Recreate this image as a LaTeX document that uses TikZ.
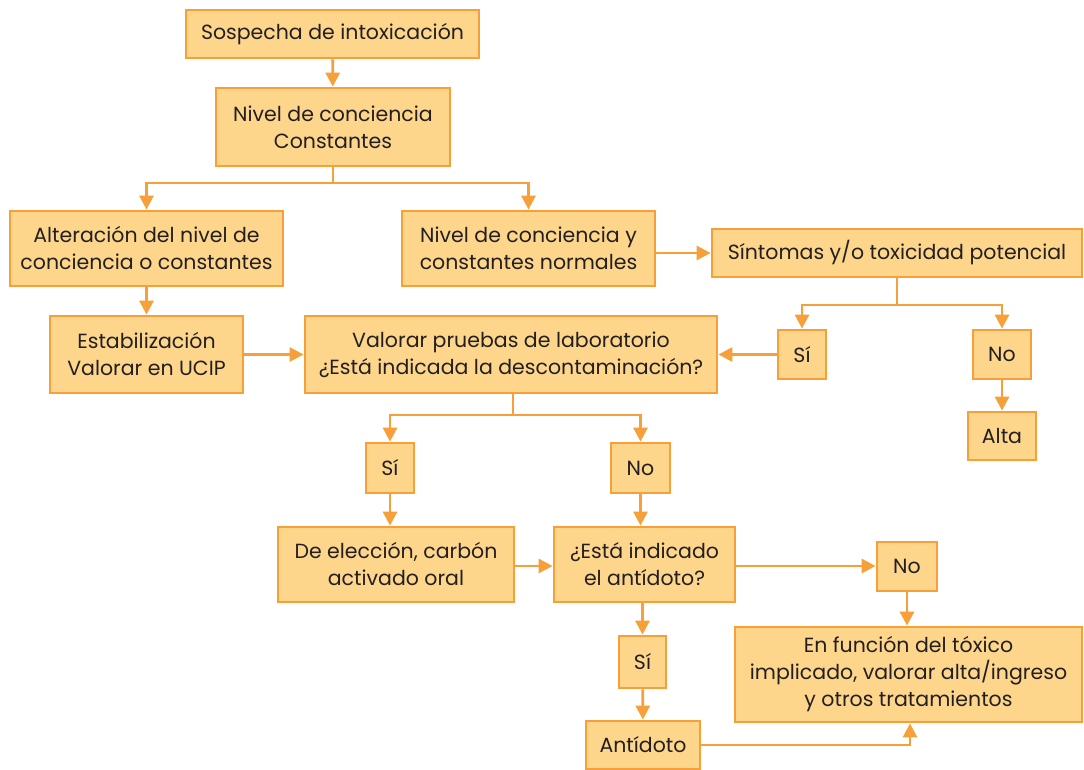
\documentclass[tikz,border=0pt]{standalone}
\usepackage{fontspec}
\setmainfont{Poppins}
\usetikzlibrary{arrows.meta}
\definecolor{boxfill}{HTML}{FDD68C}
\definecolor{boxline}{HTML}{F7A03A}
\definecolor{textc}{HTML}{231F20}
\begin{document}
\begin{tikzpicture}[x=1pt,y=-1pt,
  box/.style={draw=boxline, fill=boxfill, line width=2.8pt, inner sep=0pt, align=center,
    text=textc, font=\fontsize{20.5}{27}\selectfont},
  conn/.style={draw=boxline, line width=2.8pt},
  arr/.style={conn, -{Triangle[length=14pt,width=14pt]}}]
\useasboundingbox (0,0) rectangle (1084,770);
\def\bx#1#2#3#4#5#6{\node[box, minimum width=#4-#2, minimum height=#5-#3] (#1) at ({(#2+#4)/2},{(#3+#5)/2}) {#6};}
\bx{A}{186}{10}{479}{58}{Sospecha de intoxicación}
\bx{B}{216}{88}{450}{166}{Nivel de conciencia\\Constantes}
\bx{C}{10}{211}{283}{286}{Alteración del nivel de\\conciencia o constantes}
\bx{D}{402}{211}{655}{286}{Nivel de conciencia y\\constantes normales}
\bx{E}{712}{229}{1082}{277}{Síntomas y/o toxicidad potencial}
\bx{F}{50}{316}{243}{393}{Estabilización\\Valorar en UCIP}
\bx{G}{305}{316}{717}{393}{Valorar pruebas de laboratorio\\¿Está indicada la descontaminación?}
\bx{H}{778}{330}{826}{379}{Sí}
\bx{I}{973}{330}{1031}{379}{No}
\bx{J}{968}{412}{1036}{460}{Alta}
\bx{S1}{366}{443}{414}{493}{Sí}
\bx{N1}{611}{443}{670}{493}{No}
\bx{K}{278}{527}{514}{602}{De elección, carbón\\activado oral}
\bx{L}{554}{527}{735}{602}{¿Está indicado\\el antídoto?}
\bx{M}{877}{542}{937}{591}{No}
\bx{N}{735}{627}{1082}{722}{En función del tóxico\\implicado, valorar alta/ingreso\\y otros tratamientos}
\bx{O}{619}{636}{666}{688}{Sí}
\bx{P}{586}{721}{700}{769}{Antídoto}
\coordinate (j1) at (333,183);
\coordinate (j2) at (897,305);
\coordinate (j3) at (513,415);
\draw[arr] (A) -- (B);
\draw[conn] (B.south) -- (j1);
\draw[arr] (j1) -| (C.north);
\draw[arr] (j1) -| (D.north);
\draw[arr] (C) -- (F);
\draw[arr] (D.east |- E.west) -- (E.west);
\draw[arr] (F) -- (G.west |- F);
\draw[conn] (E.south) -- (j2);
\draw[arr] (j2) -| (H.north);
\draw[arr] (j2) -| (I.north);
\draw[arr] (H) -- (G.east |- H);
\draw[arr] (I) -- (J);
\draw[conn] (G.south -| j3) -- (j3);
\draw[arr] (j3) -| (S1.north);
\draw[arr] (j3) -| (N1.north);
\draw[arr] (S1.south) -- (S1.south |- K.north);
\draw[arr] (N1.south) -- (N1.south |- L.north);
\draw[arr] (K.east |- 0,566) -- (L.west |- 0,566);
\draw[arr] (L.east |- 0,566) -- (M.west |- 0,566);
\draw[arr] (M.south -| 907,0) -- (N.north -| 907,0);
\draw[arr] (L.south -| O) -- (O.north);
\draw[arr] (O) -- (P);
\draw[arr] (P.east) -| (N.south -| 910,0);
\end{tikzpicture}
\end{document}
